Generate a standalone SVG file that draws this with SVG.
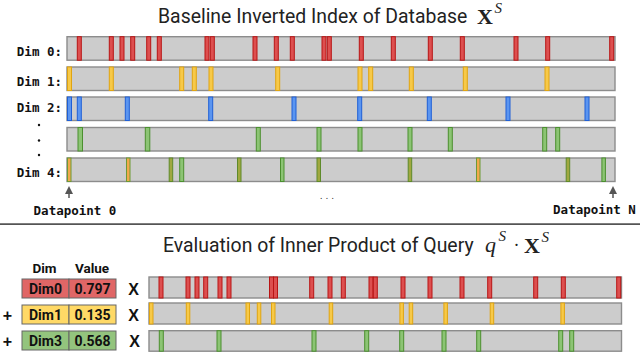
<svg xmlns="http://www.w3.org/2000/svg" width="640" height="354" viewBox="0 0 640 354">
<style>
.title{font-family:Roboto,"Liberation Sans",sans-serif;font-size:19.4px;fill:#222}
.math{font-family:"Liberation Serif","DejaVu Serif",serif;fill:#222}
.lbl{font-family:"DejaVu Sans Mono","Liberation Mono",monospace;font-weight:bold;font-size:12.5px;fill:#111}
.bar{fill:#cccccc;stroke:#8c8c8c;stroke-width:1.4}
.r{fill:#dd4f4f;stroke:#b81414;stroke-width:1}
.y{fill:#f7c948;stroke:#e0a410;stroke-width:1}
.b{fill:#5b95f0;stroke:#1f5fd6;stroke-width:1}
.g{fill:#8cc474;stroke:#4b8f2f;stroke-width:1}
.o{fill:#a0a840;stroke:#5e8a2a;stroke-width:1}
.og{fill:#f2a84a;stroke:#6d9a35;stroke-width:1}
.cell{stroke:#666;stroke-width:1}
.ct{font-family:Roboto,"Liberation Sans",sans-serif;font-weight:bold;font-size:14px;fill:#111;text-anchor:middle}
.hd{font-family:Roboto,"Liberation Sans",sans-serif;font-weight:bold;font-size:13.5px;fill:#111;text-anchor:middle}
.op{font-family:"Liberation Sans",Roboto,sans-serif;font-weight:bold;font-size:16px;fill:#111;text-anchor:middle}
</style>
<defs>
<marker id="ah" viewBox="0 0 10 10" refX="5" refY="5" markerWidth="8" markerHeight="8" orient="auto-start-reverse" markerUnits="userSpaceOnUse"><path d="M0,0 L10,5 L0,10 z" fill="#555"/></marker>
</defs>

<rect width="640" height="354" fill="#ffffff"/>

<g id="title-top">
<text class="title" x="158" y="23">Baseline Inverted Index of Database</text>
<text class="math" x="477" y="24" font-size="22" font-weight="bold">X</text>
<text class="math" x="494.5" y="13" font-size="15" font-style="italic">S</text>
</g>

<g id="labels-top">
<text class="lbl" x="62" y="56" text-anchor="end">Dim 0:</text>
<text class="lbl" x="62" y="86" text-anchor="end">Dim 1:</text>
<text class="lbl" x="62" y="111.5" text-anchor="end">Dim 2:</text>
<circle cx="39" cy="125" r="1.2" fill="#111"/>
<circle cx="39" cy="140.5" r="1.2" fill="#111"/>
<circle cx="39" cy="155" r="1.2" fill="#111"/>
<text class="lbl" x="62" y="177" text-anchor="end">Dim 4:</text>
</g>

<g id="dim0">
<rect class="bar" x="67" y="36.7" width="548" height="23.5"/>
<g class="r">
<rect x="77.3" y="36.7" width="4" height="23.5"/><rect x="109.3" y="36.7" width="4" height="23.5"/><rect x="120" y="36.7" width="4" height="23.5"/><rect x="130.7" y="36.7" width="4" height="23.5"/><rect x="146.7" y="36.7" width="4" height="23.5"/><rect x="157.3" y="36.7" width="4" height="23.5"/><rect x="205" y="36.7" width="4" height="23.5"/><rect x="210.3" y="36.7" width="4" height="23.5"/><rect x="253" y="36.7" width="4" height="23.5"/><rect x="274.3" y="36.7" width="4" height="23.5"/><rect x="290.3" y="36.7" width="4" height="23.5"/><rect x="322" y="36.7" width="4" height="23.5"/><rect x="327.3" y="36.7" width="4" height="23.5"/><rect x="359.3" y="36.7" width="4" height="23.5"/><rect x="391.3" y="36.7" width="4" height="23.5"/><rect x="428.3" y="36.7" width="4" height="23.5"/><rect x="460.3" y="36.7" width="4" height="23.5"/><rect x="514" y="36.7" width="4" height="23.5"/><rect x="545.7" y="36.7" width="4" height="23.5"/><rect x="609.7" y="36.7" width="4" height="23.5"/>
</g>
</g>

<g id="dim1">
<rect class="bar" x="67" y="67" width="548" height="23.5"/>
<g class="y">
<rect x="67.5" y="67" width="4" height="23.5"/><rect x="109.3" y="67" width="4" height="23.5"/><rect x="179.7" y="67" width="4" height="23.5"/><rect x="192.3" y="67" width="4" height="23.5"/><rect x="209" y="67" width="4" height="23.5"/><rect x="275.7" y="67" width="4" height="23.5"/><rect x="358" y="67" width="4" height="23.5"/><rect x="368.7" y="67" width="4" height="23.5"/><rect x="409.3" y="67" width="4" height="23.5"/><rect x="463.3" y="67" width="4" height="23.5"/><rect x="545" y="67" width="4" height="23.5"/>
</g>
</g>

<g id="dim2">
<rect class="bar" x="67" y="97" width="548" height="23.5"/>
<g class="b">
<rect x="67.5" y="97" width="4" height="23.5"/><rect x="77.3" y="97" width="4" height="23.5"/><rect x="125.3" y="97" width="4" height="23.5"/><rect x="208.7" y="97" width="4" height="23.5"/><rect x="292" y="97" width="4" height="23.5"/><rect x="357.7" y="97" width="4" height="23.5"/><rect x="427.3" y="97" width="4" height="23.5"/><rect x="506" y="97" width="4" height="23.5"/><rect x="585" y="97" width="4" height="23.5"/>
</g>
</g>

<g id="dim3">
<rect class="bar" x="67" y="127.5" width="548" height="23.5"/>
<g class="g">
<rect x="78" y="127.5" width="4.5" height="23.5"/><rect x="145.3" y="127.5" width="4.5" height="23.5"/><rect x="256.3" y="127.5" width="4" height="23.5"/><rect x="317" y="127.5" width="4" height="23.5"/><rect x="358" y="127.5" width="4" height="23.5"/><rect x="408" y="127.5" width="4" height="23.5"/><rect x="448.3" y="127.5" width="4" height="23.5"/><rect x="542.7" y="127.5" width="4" height="23.5"/><rect x="555.7" y="127.5" width="4" height="23.5"/>
</g>
</g>

<g id="dim4">
<rect class="bar" x="67" y="158" width="548" height="23.5"/>
<rect class="og" x="67.5" y="158" width="3.5" height="23.5"/>
<rect class="og" x="126.5" y="158" width="3.5" height="23.5"/>
<rect class="o" x="169.2" y="158" width="3.5" height="23.5"/>
<rect class="g" x="179.7" y="158" width="4" height="23.5"/>
<rect class="o" x="237.5" y="158" width="3.5" height="23.5"/>
<rect class="g" x="280.5" y="158" width="3.5" height="23.5"/>
<rect class="o" x="317" y="158" width="3.5" height="23.5"/>
<rect class="o" x="408.2" y="158" width="3.5" height="23.5"/>
<rect class="og" x="476.5" y="158" width="3.5" height="23.5"/>
<rect class="o" x="566.2" y="158" width="3.5" height="23.5"/>
<rect class="g" x="601.9" y="158" width="3.5" height="23.5"/>
</g>

<g id="connectors">
<line x1="69" y1="198" x2="69" y2="190" stroke="#555" stroke-width="1.5" marker-end="url(#ah)"/>
<line x1="613" y1="198" x2="613" y2="190" stroke="#555" stroke-width="1.5" marker-end="url(#ah)"/>
</g>

<g id="datapoints">
<text class="lbl" x="75" y="214.5" text-anchor="middle">Datapoint 0</text>
<text class="lbl" x="594.5" y="213.5" text-anchor="middle">Datapoint N</text>
<text x="327" y="199" text-anchor="middle" font-family="'DejaVu Sans',sans-serif" font-size="9" fill="#333">. . .</text>
</g>

<line id="divider" x1="0" y1="224.2" x2="640" y2="224.2" stroke="#555" stroke-width="1.8"/>

<g id="title-bottom">
<text class="title" x="163" y="252">Evaluation of Inner Product of Query</text>
<text class="math" x="485" y="252" font-size="22" font-style="italic">q</text>
<text class="math" x="498.5" y="241" font-size="15" font-style="italic">S</text>
<text class="math" x="516.5" y="251" font-size="18" text-anchor="middle">·</text>
<text class="math" x="524" y="253" font-size="22" font-weight="bold">X</text>
<text class="math" x="541.5" y="242" font-size="15" font-style="italic">S</text>
</g>

<g id="query-table">
<text class="hd" x="44.5" y="273">Dim</text>
<text class="hd" x="92" y="273">Value</text>
<g id="q-dim0">
<rect class="cell" x="22" y="279" width="47" height="19" fill="#e06666"/>
<rect class="cell" x="69" y="279" width="47" height="19" fill="#e06666"/>
<text class="ct" x="45.5" y="293.5">Dim0</text>
<text class="ct" x="92.5" y="293.5">0.797</text>
</g>
<g id="q-dim1">
<rect class="cell" x="22" y="305" width="47" height="19" fill="#ffd966"/>
<rect class="cell" x="69" y="305" width="47" height="19" fill="#ffd966"/>
<text class="ct" x="45.5" y="319.5">Dim1</text>
<text class="ct" x="92.5" y="319.5">0.135</text>
</g>
<g id="q-dim3">
<rect class="cell" x="22" y="331" width="47" height="19" fill="#93c47d"/>
<rect class="cell" x="69" y="331" width="47" height="19" fill="#93c47d"/>
<text class="ct" x="45.5" y="345.5">Dim3</text>
<text class="ct" x="92.5" y="345.5">0.568</text>
</g>
<text class="op" x="7.5" y="321" font-size="19">+</text>
<text class="op" x="7.5" y="347" font-size="19">+</text>
<text class="op" x="133.5" y="294.5">X</text>
<text class="op" x="133.5" y="320.5">X</text>
<text class="op" x="134.5" y="346.5">X</text>
</g>

<g id="row-dim0">
<rect class="bar" x="149" y="277" width="472.5" height="21"/>
<g class="r">
<rect x="159" y="277" width="4" height="21"/><rect x="186" y="277" width="4" height="21"/><rect x="195" y="277" width="4" height="21"/><rect x="203.7" y="277" width="4" height="21"/><rect x="218" y="277" width="4" height="21"/><rect x="227" y="277" width="4" height="21"/><rect x="269.5" y="277" width="4" height="21"/><rect x="273.5" y="277" width="4" height="21"/><rect x="309.7" y="277" width="4" height="21"/><rect x="328" y="277" width="4" height="21"/><rect x="341.3" y="277" width="4" height="21"/><rect x="369" y="277" width="4" height="21"/><rect x="373.3" y="277" width="4" height="21"/><rect x="401" y="277" width="4" height="21"/><rect x="428" y="277" width="4" height="21"/><rect x="460" y="277" width="4" height="21"/><rect x="487.7" y="277" width="4" height="21"/><rect x="533.7" y="277" width="4" height="21"/><rect x="561.3" y="277" width="4" height="21"/><rect x="616.7" y="277" width="4" height="21"/>
</g>
</g>

<g id="row-dim1">
<rect class="bar" x="149" y="303" width="472.5" height="21"/>
<g class="y">
<rect x="149.5" y="303" width="3.5" height="21"/><rect x="186.3" y="303" width="3.5" height="21"/><rect x="246" y="303" width="3.5" height="21"/><rect x="257.3" y="303" width="3.5" height="21"/><rect x="271.5" y="303" width="3.5" height="21"/><rect x="329.2" y="303" width="3.5" height="21"/><rect x="399.9" y="303" width="3.5" height="21"/><rect x="409.2" y="303" width="3.5" height="21"/><rect x="443.9" y="303" width="3.5" height="21"/><rect x="490.2" y="303" width="3.5" height="21"/><rect x="560.9" y="303" width="3.5" height="21"/>
</g>
</g>

<g id="row-dim3">
<rect class="bar" x="149" y="330.7" width="472.5" height="20.5"/>
<g class="g">
<rect x="159.3" y="330.7" width="4" height="20.5"/><rect x="217" y="330.7" width="4" height="20.5"/><rect x="312" y="330.7" width="4" height="20.5"/><rect x="364.7" y="330.7" width="4" height="20.5"/><rect x="399.7" y="330.7" width="4" height="20.5"/><rect x="442" y="330.7" width="4" height="20.5"/><rect x="476.7" y="330.7" width="4" height="20.5"/><rect x="558.7" y="330.7" width="4" height="20.5"/><rect x="569.7" y="330.7" width="4" height="20.5"/>
</g>
</g>
</svg>
